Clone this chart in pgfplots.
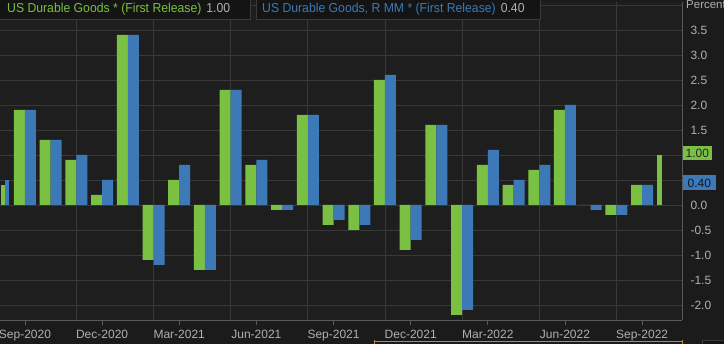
\documentclass[border=0pt]{standalone}
\usepackage{fontspec}
\setmainfont{Liberation Sans}
\newfontfamily\legfont[FakeStretch=0.94]{Liberation Sans}
\usepackage{pgfplots}
\usepackage{pgfplotstable}
\pgfplotsset{compat=1.18}
\definecolor{bg}{HTML}{1B1B1B}
\definecolor{plotbg}{HTML}{1E1E1E}
\definecolor{gridc}{HTML}{383838}
\definecolor{axc}{HTML}{5A5A5A}
\definecolor{tickc}{HTML}{B0B0B0}
\definecolor{gr}{HTML}{7AC143}
\definecolor{bl}{HTML}{3D79B6}
\definecolor{legbg}{HTML}{141414}
\definecolor{legborder}{HTML}{3A3A3A}
\definecolor{navc}{HTML}{C8842E}

% month index: 0 = Aug-2020 ... 26 = Oct-2022
\pgfplotstableread{
i  green  blue
1   1.9   1.9
2   1.3   1.3
3   0.9   1.0
4   0.2   0.5
5   3.4   3.4
6  -1.1  -1.2
7   0.5   0.8
8  -1.3  -1.3
9   2.3   2.3
10  0.8   0.9
11 -0.1  -0.1
12  1.8   1.8
13 -0.4  -0.3
14 -0.5  -0.4
15  2.5   2.6
16 -0.9  -0.7
17  1.6   1.6
18 -2.2  -2.1
19  0.8   1.1
20  0.4   0.5
21  0.7   0.8
22  1.9   2.0
23  0.0  -0.1
24 -0.2  -0.2
25  0.4   0.4
}\durables

\begin{document}
\begin{tikzpicture}[x=1pt,y=1pt]
\path[use as bounding box, fill=bg] (0,0) rectangle (724,344);
\begin{axis}[
  at={(0,48)}, anchor=south west, scale only axis,
  width=682pt, height=318pt,
  xmin=0.03, xmax=26.55, ymin=-2.3, ymax=4.06,
  axis background/.style={fill=plotbg},
  axis x line*=bottom, axis y line*=right,
  axis line style={draw=axc, line width=0.8pt},
  xtick={1,4,...,25},
  xticklabels={Sep-2020,Dec-2020,Mar-2021,Jun-2021,Sep-2021,Dec-2021,Mar-2022,Jun-2022,Sep-2022},
  minor xtick={3,6,...,24},
  xminorgrids, ymajorgrids,
  ytick={-2,-1.5,...,3.5},
  yticklabels={-2.0,-1.5,-1.0,-0.5,0.0,0.5,1.0,1.5,2.0,2.5,3.0,3.5},
  extra y ticks={4}, extra y tick labels={},
  extra y tick style={grid=major, major tick length=0pt},
  tick align=outside,
  major tick length=5pt, minor tick length=0pt,
  x tick style={draw=axc, line width=0.8pt},
  y tick style={draw=none},
  major grid style={draw=gridc, line width=0.7pt},
  minor grid style={draw=gridc, line width=0.7pt},
  tick label style={font=\fontsize{12}{14}\selectfont, text=tickc},
  yticklabel style={anchor=west, xshift=0pt},
  xticklabel style={yshift=-2pt},
]
\addplot[ybar, bar width=11pt, bar shift=-5.5pt, fill=gr, draw=none] table[x=i, y=green] {\durables};
\addplot[ybar, bar width=11pt, bar shift=5.5pt, fill=bl, draw=none] table[x=i, y=blue] {\durables};
% partial bars at the window edges
\addplot[ybar, bar width=4pt, bar shift=3.7pt, fill=gr, draw=none] coordinates {(0,0.4)};
\addplot[ybar, bar width=4pt, bar shift=7.7pt, fill=bl, draw=none] coordinates {(0,0.5)};
\addplot[ybar, bar width=4.7pt, bar shift=-8.5pt, fill=gr, draw=none] coordinates {(26,1.0)};
\end{axis}
% value tags on the right axis
\node[fill=gr, text=black!85, inner xsep=2.5pt, inner ysep=1pt, minimum height=14pt, anchor=west,
      font=\fontsize{12}{14}\selectfont] at (683,191) {1.00};
\node[fill=bl, text=black!80!bl, inner xsep=4.5pt, inner ysep=1pt, minimum height=15pt, anchor=west,
      font=\fontsize{12}{14}\selectfont] at (683,161) {0.40};
% unit label
\node[anchor=base west, inner sep=0pt, text=tickc, font=\fontsize{11.5}{13}\selectfont] at (686,335) {Percent};
% legend boxes
\draw[fill=legbg, draw=legborder, line width=0.7pt] (-1,325) rectangle (250,346);
\draw[fill=legbg, draw=legborder, line width=0.7pt] (256,325) rectangle (540,346);
\node[anchor=base west, inner sep=0pt, font=\legfont\fontsize{13}{15}\selectfont] at (7,331)
  {\textcolor{gr}{US Durable Goods * (First Release)}\hspace{5pt}\textcolor{tickc}{1.00}};
\node[anchor=base west, inner sep=0pt, font=\legfont\fontsize{13}{15}\selectfont] at (262,331)
  {\textcolor{bl}{US Durable Goods, R MM * (First Release)}\hspace{5pt}\textcolor{tickc}{0.40}};
% navigator strip
\draw[navc, line width=1pt] (374,2) -- (683,2);
\draw[navc, line width=1.5pt] (374.5,0) -- (374.5,4);
\draw[navc, line width=1.5pt] (682.5,0) -- (682.5,4);
\draw[fill=legbg, draw=legborder] (702,-2) rectangle (730,4);
\end{tikzpicture}
\end{document}
